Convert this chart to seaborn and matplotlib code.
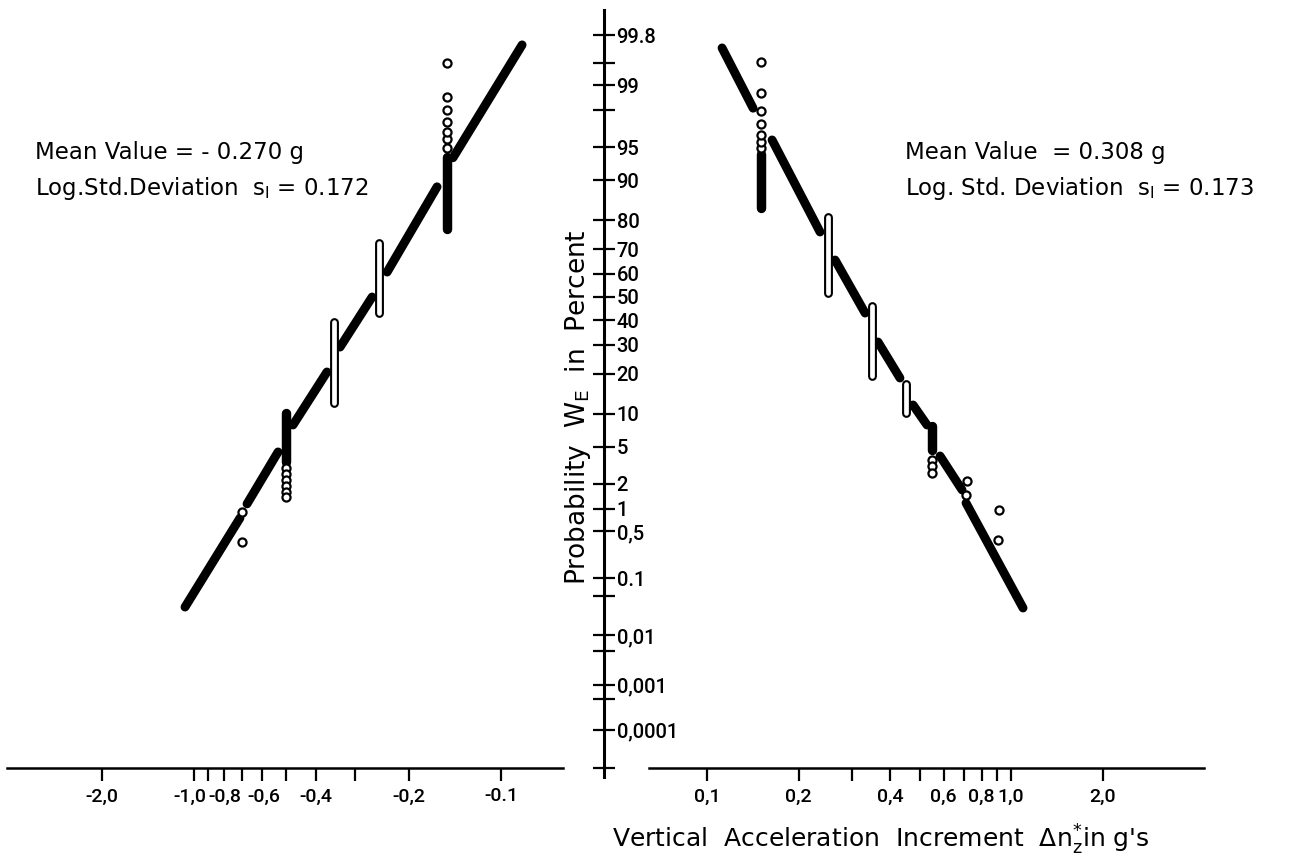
import math
from statistics import NormalDist

import numpy as np
import pandas as pd
import matplotlib
matplotlib.use("Agg")
import matplotlib.pyplot as plt
from matplotlib.ticker import NullLocator
from matplotlib.transforms import ScaledTranslation
import seaborn as sns

# ---------------------------------------------------------------- data
# left half: negative increments (g), probabilities in percent
neg_seg_a0 = [-1.070, -0.672, -0.476, -0.3345, -0.235, -0.1434]
neg_seg_a1 = [-0.7085, -0.5325, -0.369, -0.263, -0.1616, -0.0854]
neg_seg_p0 = [0.0328, 1.15, 7.98, 29.1, 60.8, 93.7]
neg_seg_p1 = [0.758, 4.43, 20.5, 50.0, 88.7, 99.72]

neg_dense_a = [-0.50, -0.15]
neg_dense_plo = [3.49, 77.3]
neg_dense_phi = [10.1, 93.8]

neg_bar_a = [-0.35, -0.25]
neg_bar_plo = [12.2, 43.0]
neg_bar_phi = [39.2, 72.4]

neg_pt_a = [-0.70, -0.70,
            -0.50, -0.50, -0.50, -0.50, -0.50, -0.50,
            -0.15, -0.15, -0.15, -0.15, -0.15, -0.15, -0.15]
neg_pt_p = [0.355, 0.907,
            3.01, 2.59, 2.22, 1.89, 1.61, 1.40,
            94.9, 95.9, 96.5, 97.3, 98.0, 98.6, 99.49]

# right half: positive increments
pos_seg_a0 = [0.112, 0.1636, 0.2637, 0.365, 0.476, 0.584, 0.711]
pos_seg_a1 = [0.1417, 0.2353, 0.331, 0.431, 0.529, 0.690, 1.095]
pos_seg_p0 = [99.69, 95.78, 65.78, 31.05, 11.77, 4.03, 1.18]
pos_seg_p1 = [98.1, 76.25, 43.0, 18.67, 7.98, 1.70, 0.0316]

pos_dense_a = [0.15, 0.55]
pos_dense_plo = [83.6, 4.64]
pos_dense_phi = [94.2, 7.82]

pos_bar_a = [0.25, 0.35, 0.45]
pos_bar_plo = [51.75, 19.27, 10.12]
pos_bar_phi = [81.03, 46.06, 16.95]

pos_pt_a = [0.15, 0.15, 0.15, 0.15, 0.15, 0.15, 0.15,
            0.55, 0.55, 0.55,
            0.717, 0.711, 0.913, 0.906]
pos_pt_p = [94.9, 95.57, 96.25, 97.14, 97.95, 98.75, 99.51,
            3.66, 3.17, 2.66,
            2.16, 1.48, 0.962, 0.379]

# axis ticks
prob_ticks = [99.8, 99.5, 99, 98, 95, 90, 80, 70, 60, 50, 40, 30, 20, 10,
              5, 2, 1, 0.5, 0.1, 0.05, 0.01, 0.005, 0.001, 0.0005, 0.0001]
prob_labels = ["99.8", "", "99", "", "95", "90", "80", "70", "60", "50",
               "40", "30", "20", "10", "5", "2", "1", "0,5", "0.1", "",
               "0,01", "", "0,001", "", "0,0001"]
neg_ticks = [-2.0, -1.0, -0.9, -0.8, -0.7, -0.6, -0.5, -0.4, -0.3, -0.2, -0.1]
neg_labels = ["-2,0", "-1,0", "", "-0,8", "", "-0,6", "", "-0,4", "", "-0,2", "-0.1"]
pos_ticks = [0.1, 0.2, 0.3, 0.4, 0.5, 0.6, 0.7, 0.8, 0.9, 1.0, 2.0]
pos_labels = ["0,1", "0,2", "", "0,4", "", "0,6", "", "0,8", "", "1,0", "2,0"]

# ---------------------------------------------------------------- scales
_nd = NormalDist()
_ppf = np.vectorize(_nd.inv_cdf, otypes=[float])
_erfc = np.vectorize(math.erfc, otypes=[float])


def p_fwd(p):
    q = np.clip(np.asarray(p, dtype=float) / 100.0, 1e-20, 1 - 1e-15)
    return _ppf(q)


def p_inv(z):
    return 50.0 * _erfc(-np.asarray(z, dtype=float) / math.sqrt(2.0))


def n_fwd(a):
    return -np.log10(np.clip(-np.asarray(a, dtype=float), 1e-12, None))


def n_inv(t):
    return -np.power(10.0, -np.asarray(t, dtype=float))


# ---------------------------------------------------------------- style
sns.set_style("white", rc={"axes.edgecolor": "black", "xtick.color": "black",
                           "ytick.color": "black", "text.color": "black",
                           "axes.labelcolor": "black"})
plt.rcParams["font.family"] = ["Roboto", "DejaVu Sans"]
plt.rcParams["font.weight"] = "medium"

W, H = 1292, 861
fig = plt.figure(figsize=(W / 100, H / 100), dpi=100)

TOP_PX, BOT_PX, XAX_PX = 10, 777, 768
Z0, ZS = 297.0, 91.0          # pixel of 50 %, pixels per standard deviation
ylim = (float(p_inv((Z0 - BOT_PX) / ZS)), float(p_inv((Z0 - TOP_PX) / ZS)))
p_xaxis = float(p_inv((Z0 - XAX_PX) / ZS))

ax_l = fig.add_axes([6 / W, 1 - BOT_PX / H, (604 - 6) / W, (BOT_PX - TOP_PX) / H])
ax_r = fig.add_axes([649 / W, 1 - BOT_PX / H, (1204 - 649) / W, (BOT_PX - TOP_PX) / H])

ax_l.set_xscale("function", functions=(n_fwd, n_inv))
ax_r.set_xscale("log")
for ax in (ax_l, ax_r):
    ax.set_yscale("function", functions=(p_fwd, p_inv))
    ax.set_facecolor("none")


def seg_frame(a0, a1, p0, p1):
    rows = []
    for i, (xa, xb, pa, pb) in enumerate(zip(a0, a1, p0, p1)):
        rows.append((i, xa, pa))
        rows.append((i, xb, pb))
    return pd.DataFrame(rows, columns=["seg", "a", "p"])


def draw_lines(ax, df, color, lw, z):
    sns.lineplot(data=df, x="a", y="p", units="seg", estimator=None, sort=False,
                 color=color, linewidth=lw, solid_capstyle="round", legend=False,
                 ax=ax, zorder=z)


def draw_half(ax, sa0, sa1, sp0, sp1, da, dlo, dhi, ba, blo, bhi, pa, pp):
    draw_lines(ax, seg_frame(sa0, sa1, sp0, sp1), "black", 6.4, 2)
    draw_lines(ax, seg_frame(da, da, dlo, dhi), "black", 6.8, 2)
    draw_lines(ax, seg_frame(ba, ba, blo, bhi), "black", 6.4, 3)
    draw_lines(ax, seg_frame(ba, ba, blo, bhi), "white", 3.4, 3.1)
    sns.scatterplot(x=pa, y=pp, ax=ax, s=34, marker="o", color="white",
                    edgecolor="black", linewidth=1.6, zorder=4, legend=False)


draw_half(ax_l, neg_seg_a0, neg_seg_a1, neg_seg_p0, neg_seg_p1,
          neg_dense_a, neg_dense_plo, neg_dense_phi,
          neg_bar_a, neg_bar_plo, neg_bar_phi, neg_pt_a, neg_pt_p)
draw_half(ax_r, pos_seg_a0, pos_seg_a1, pos_seg_p0, pos_seg_p1,
          pos_dense_a, pos_dense_plo, pos_dense_phi,
          pos_bar_a, pos_bar_plo, pos_bar_phi, pos_pt_a, pos_pt_p)

# ---------------------------------------------------------------- axes
ax_l.set_xlim(-4.097, -0.0462)
ax_r.set_xlim(0.0644, 4.313)
for ax in (ax_l, ax_r):
    ax.set_ylim(*ylim)
    ax.set_xlabel("")
    ax.set_ylabel("")
    ax.spines["top"].set_visible(False)
    ax.spines["left"].set_visible(False)
    ax.spines["bottom"].set_position(("data", p_xaxis))
    ax.spines["bottom"].set_linewidth(1.8)
    ax.xaxis.set_minor_locator(NullLocator())
    ax.yaxis.set_minor_locator(NullLocator())
    ax.tick_params(axis="x", which="major", direction="out", length=9, width=1.6,
                   labelsize=14, pad=5, bottom=True)

ax_r.spines["right"].set_visible(False)
ax_r.set_yticks([])
ax_r.tick_params(axis="y", left=False, right=False, labelleft=False)
ax_r.set_xticks(pos_ticks, pos_labels)
ax_r.xaxis.set_minor_locator(NullLocator())

ax_l.spines["bottom"].set_bounds(-4.06, -0.0628)
ax_l.spines["right"].set_linewidth(2.2)
ax_l.set_xticks(neg_ticks, neg_labels)
ax_l.xaxis.set_minor_locator(NullLocator())
ax_l.set_yticks(prob_ticks + [p_xaxis], prob_labels + [""])
ax_l.yaxis.set_minor_locator(NullLocator())
ax_l.yaxis.tick_right()
ax_l.tick_params(axis="y", which="major", direction="inout", length=16, width=1.6,
                 labelsize=14.5, pad=1, right=True, left=False,
                 labelright=True, labelleft=False)

# the crowded labels -1,0 / -0,8 / -0,6 touch in the original; nudge apart slightly
_ticks = ax_l.xaxis.get_major_ticks()
for idx, dx in ((1, -4), (3, 1), (5, 2)):
    lab = _ticks[idx].label1
    lab.set_transform(lab.get_transform() + ScaledTranslation(dx / 100, 0, fig.dpi_scale_trans))

# ---------------------------------------------------------------- texts
tk = dict(family="DejaVu Sans", fontsize=16.5, ha="left", va="center")
fig.text(35 / W, 1 - 152 / H, "Mean Value = - 0.270 g", **tk)
fig.text(35 / W, 1 - 189 / H, r"Log.Std.Deviation  s$_\mathregular{l}$ = 0.172", **tk)
fig.text(905 / W, 1 - 152 / H, "Mean Value  = 0.308 g", **tk)
fig.text(905 / W, 1 - 189 / H, r"Log. Std. Deviation  s$_\mathregular{l}$ = 0.173", **tk)

fig.text(578 / W, 1 - 407 / H, r"Probability  W$_\mathregular{E}$  in  Percent",
         family="DejaVu Sans", fontsize=19, rotation=90, ha="center", va="center")
fig.text(612 / W, 1 - 840 / H,
         r"Vertical  Acceleration  Increment  $\Delta$n$_\mathregular{z}^\mathregular{*}$in g's",
         family="DejaVu Sans", fontsize=18, ha="left", va="center")

fig.savefig("out.png", dpi=100, facecolor="white")
